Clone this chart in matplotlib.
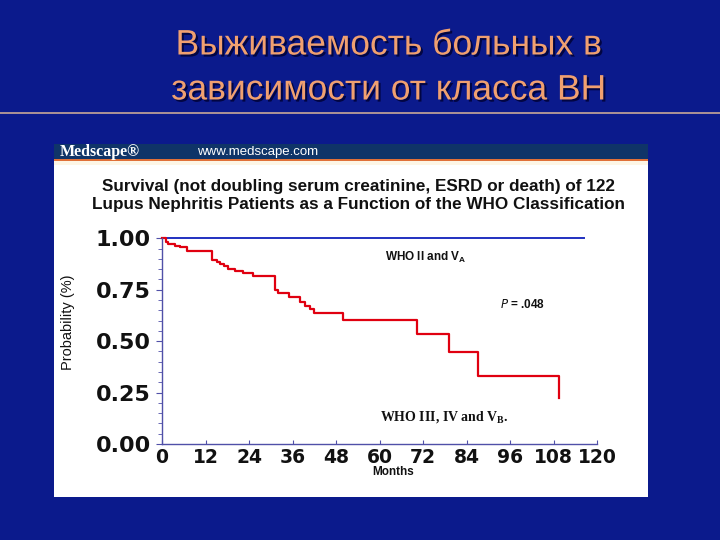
import matplotlib
matplotlib.use("Agg")
import matplotlib.pyplot as plt
import matplotlib.patheffects as pe
from matplotlib.patches import Rectangle
from matplotlib.ticker import MultipleLocator

# ---- data ----
title_lines = ["Выживаемость больных в", "зависимости от класса ВН"]
chart_title = ["Survival (not doubling serum creatinine, ESRD or death) of 122",
               "Lupus Nephritis Patients as a Function of the WHO Classification"]
months_red = [0, 1.0, 1.7, 3.6, 5.0, 6.8, 13.9, 15.1, 16.0, 17.1, 18.3, 20.1, 22.4,
              25.0, 31.2, 32.1, 34.9, 38.1, 39.4, 40.8, 42.0, 50.0, 70.3, 79.2,
              87.1, 109.4]
surv_red = [1.0, 0.984, 0.972, 0.964, 0.956, 0.940, 0.894, 0.883, 0.874, 0.863,
            0.851, 0.841, 0.830, 0.815, 0.749, 0.733, 0.713, 0.692, 0.671, 0.655,
            0.638, 0.603, 0.533, 0.446, 0.332, 0.222]
months_blue = [0, 116.5]
surv_blue = [1.0, 1.0]
x_ticks = [0, 12, 24, 36, 48, 60, 72, 84, 96, 108, 120]
y_ticks = [0.0, 0.25, 0.5, 0.75, 1.0]
y_ticklabels = ["0.00", "0.25", "0.50", "0.75", "1.00"]

W, H = 720, 540
BG = "#0b1a8c"
fig = plt.figure(figsize=(7.2, 5.4), dpi=100, facecolor=BG)

def fx(px):
    return px / W

def fy(py):
    return 1 - py / H

# slide title
for i, line in enumerate(title_lines):
    fig.text(fx(389), fy(45 + 45 * i), line, ha="center", va="center",
             fontsize=25.5, color="#f0a070", family="Liberation Sans",
             path_effects=[pe.SimplePatchShadow(offset=(1.5, -1.5), shadow_rgbFace="#000030", alpha=0.8),
                           pe.Normal()])
# separator line
fig.add_artist(plt.Line2D([0, 1], [fy(113), fy(113)], color="#c8a898", lw=1.2,
                          transform=fig.transFigure))

# panel
fig.add_artist(Rectangle((fx(54), fy(497)), fx(648) - fx(54), fy(160) - fy(497),
                         transform=fig.transFigure, facecolor="white", edgecolor="none", zorder=-2))
fig.add_artist(Rectangle((fx(54), fy(159)), fx(648) - fx(54), fy(144) - fy(159),
                         transform=fig.transFigure, facecolor="#0f3468", edgecolor="none", zorder=-2))
fig.add_artist(Rectangle((fx(54), fy(161.5)), fx(648) - fx(54), fy(159) - fy(161.5),
                         transform=fig.transFigure, facecolor="#e07038", edgecolor="none", zorder=-2))
fig.add_artist(Rectangle((fx(54), fy(165)), fx(648) - fx(54), fy(161.5) - fy(165),
                         transform=fig.transFigure, facecolor="#fdf6e6", edgecolor="none", zorder=-2))
fig.text(fx(60), fy(152), "Medscape®", ha="left", va="center", fontsize=11.5,
         color="white", family="Liberation Serif", fontweight="bold")
fig.text(fx(197), fy(152), "www.medscape.com", ha="left", va="center", fontsize=9.5,
         color="white", family="Liberation Sans")

for i, line in enumerate(chart_title):
    fig.text(fx(358), fy(186 + 19 * i), line, ha="center", va="center",
             fontsize=12.3, color="#111111", family="Liberation Sans", fontweight="bold")

# axes
ax = fig.add_axes([fx(162), fy(444), fx(597) - fx(162), fy(238.3) - fy(444)])
ax.set_zorder(5)
ax.set_facecolor("white")
ax.set_xlim(0, 120)
ax.set_ylim(0, 1.0)
ax.plot(months_blue, surv_blue, color="#2030c0", lw=1.4, clip_on=False)
ax.step(months_red, surv_red, where="post", color="#e00010", lw=1.6, clip_on=False)

for s in ["top", "right"]:
    ax.spines[s].set_visible(False)
for s in ["left", "bottom"]:
    ax.spines[s].set_color("#5050a8")
    ax.spines[s].set_linewidth(1.0)

ax.set_xticks(x_ticks)
ax.set_xticklabels([str(t) for t in x_ticks])
ax.set_yticks(y_ticks)
ax.set_yticklabels(y_ticklabels)
ax.yaxis.set_minor_locator(MultipleLocator(0.05))
ax.tick_params(axis="x", direction="in", length=3, color="#5050a8", pad=3,
               labelsize=13.5, labelcolor="#111111")
ax.tick_params(axis="y", which="major", direction="out", length=4, color="#5050a8",
               pad=4, labelsize=16, labelcolor="#111111")
ax.tick_params(axis="y", which="minor", direction="out", length=3, color="#5050a8")
for lab in ax.get_xticklabels() + ax.get_yticklabels():
    lab.set_fontweight("heavy")
    lab.set_family("DejaVu Sans")

fig.text(fx(393), fy(472), "Months", ha="center", va="center", fontsize=8.5,
         color="#111111", family="Liberation Sans", fontweight="bold", zorder=6)
fig.text(fx(68), fy(322), "Probability (%)", ha="center", va="center", rotation=90,
         fontsize=10.5, color="#111111", family="Liberation Sans", zorder=6)

fig.text(fx(385), fy(257), r"WHO II and V$_\mathregular{A}$", ha="left", va="center",
         fontsize=8.5, color="#111111", family="Liberation Sans", fontweight="bold", zorder=6)
fig.text(fx(500), fy(305), r"$\mathit{P}$ = .048", ha="left", va="center",
         fontsize=8.5, color="#111111", family="Liberation Sans", fontweight="bold", zorder=6)
fig.text(fx(380), fy(417), r"WHO III, IV and V$_\mathregular{B}$.", ha="left", va="center",
         fontsize=10, color="#111111", family="Liberation Serif", fontweight="bold", zorder=6)

fig.savefig("out.png", dpi=100, facecolor=BG)
